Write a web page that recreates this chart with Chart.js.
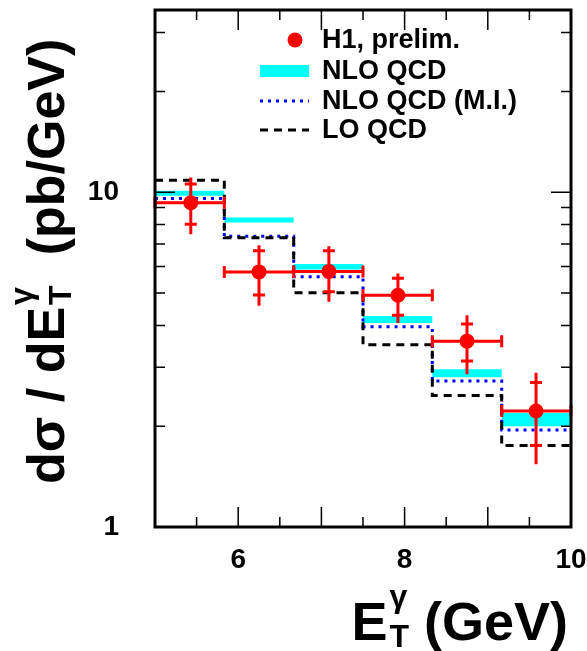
<!DOCTYPE html>
<html>
<head>
<meta charset="utf-8">
<script src="https://cdn.jsdelivr.net/npm/chart.js@4.4.1/dist/chart.umd.min.js"></script>
<style>
  html, body { margin: 0; padding: 0; background: #fff; }
  #wrap { width: 587px; height: 651px; }
</style>
</head>
<body>
<div id="wrap"><canvas id="xsec"></canvas></div>
<script>
// bin edges in E_T^gamma (GeV)
const binEdges = [5.0, 5.833, 6.667, 7.5, 8.333, 9.167, 10.0];

// H1 preliminary points (pb/GeV), inner cross = stat, outer = total
const dataX = [5.43, 6.25, 7.09, 7.92, 8.75, 9.58];
const dataY = [9.3, 5.78, 5.8, 4.92, 3.59, 2.22];
const statLo = [8.02, 4.93, 5.04, 4.29, 3.13, 1.75];
const statHi = [10.57, 6.68, 6.68, 5.53, 4.04, 2.70];
const totLo = [7.49, 4.58, 4.71, 4.07, 2.86, 1.54];
const totHi = [11.07, 6.94, 6.89, 5.72, 4.29, 2.89];

// predictions per bin
const nloLo = [9.75, 8.12, 5.88, 4.07, 2.80, 2.00];
const nloHi = [10.09, 8.40, 6.10, 4.27, 2.96, 2.19];
const nloMI = [9.58, 7.39, 5.59, 3.96, 2.73, 1.95];
const loQcd = [10.86, 7.31, 5.01, 3.50, 2.47, 1.75];

const legendLabels = ['H1, prelim.', 'NLO QCD', 'NLO QCD (M.I.)', 'LO QCD'];

// axis ticks
const xTickLabels = [6, 8, 10];
const yTicks = [1, 2, 3, 4, 5, 6, 7, 8, 9, 10, 20, 30];
const yTickLabels = [1, 10];

const FONT = '"Liberation Sans", Arial, Helvetica, sans-serif';
const RED = '#ff0000', CYAN = '#00ffff', BLUE = '#0000ff';

// histogram style points: one per left edge + closing point at the last edge
const steps = vals => binEdges.map((e, i) => ({ x: e, y: vals[Math.min(i, vals.length - 1)] }));

// keep the plot frame where the original has it
const noPad = s => { s.paddingTop = 0; s.paddingBottom = 0; s.paddingLeft = 0; s.paddingRight = 0; };

const h1Plugin = {
  id: 'h1Style',
  beforeDatasetDraw(chart, args) {
    if (args.index !== 0) return;
    const { ctx, scales: { x, y } } = chart;
    ctx.save();
    ctx.strokeStyle = RED;
    ctx.lineWidth = 3;
    ctx.beginPath();
    dataX.forEach((v, i) => {
      const px = x.getPixelForValue(v), py = y.getPixelForValue(dataY[i]);
      const xl = x.getPixelForValue(binEdges[i]), xr = x.getPixelForValue(binEdges[i + 1]);
      ctx.moveTo(xl, py); ctx.lineTo(xr, py);
      ctx.moveTo(xl, py - 6); ctx.lineTo(xl, py + 6);
      ctx.moveTo(xr, py - 6); ctx.lineTo(xr, py + 6);
      ctx.moveTo(px, y.getPixelForValue(totHi[i])); ctx.lineTo(px, y.getPixelForValue(totLo[i]));
      [statHi[i], statLo[i]].forEach(s => {
        const sy = y.getPixelForValue(s);
        ctx.moveTo(px - 6, sy); ctx.lineTo(px + 6, sy);
      });
    });
    ctx.stroke();
    ctx.restore();
  },
  afterDraw(chart) {
    const { ctx, chartArea: a, scales: { x, y } } = chart;
    ctx.save();
    // inward ticks on all four sides
    ctx.strokeStyle = '#000';
    ctx.lineWidth = 1.5;
    ctx.beginPath();
    x.ticks.forEach(t => {
      const px = x.getPixelForValue(t.value);
      const len = Number.isInteger(t.value) ? 20 : 10;
      ctx.moveTo(px, a.bottom); ctx.lineTo(px, a.bottom - len);
      ctx.moveTo(px, a.top); ctx.lineTo(px, a.top + len);
    });
    y.ticks.forEach(t => {
      const py = y.getPixelForValue(t.value);
      const len = yTickLabels.includes(t.value) ? 20 : 10;
      ctx.moveTo(a.left, py); ctx.lineTo(a.left + len, py);
      ctx.moveTo(a.right, py); ctx.lineTo(a.right - len, py);
    });
    ctx.stroke();
    // frame
    ctx.lineWidth = 3;
    ctx.strokeRect(a.left, a.top, a.right - a.left, a.bottom - a.top);

    // legend
    const ds = chart.data.datasets;
    const rows = [40, 71, 101, 130].map(v => a.top + v - 10);
    const sx0 = a.left + 105, sx1 = a.left + 154, tx = a.left + 167;
    ctx.font = 'bold 27px ' + FONT;
    ctx.textBaseline = 'middle';
    ctx.fillStyle = '#000';
    legendLabels.forEach((lab, i) => {
      const ry = rows[i];
      if (i === 0) {
        ctx.fillStyle = RED;
        ctx.beginPath();
        ctx.arc(sx1 - 14, ry, 7.5, 0, Math.PI * 2);
        ctx.fill();
      } else if (i === 1) {
        ctx.fillStyle = CYAN;
        ctx.fillRect(sx0, ry - 6, sx1 - sx0, 12);
      } else {
        const d = ds[i === 2 ? 2 : 1];
        ctx.strokeStyle = d.borderColor;
        ctx.lineWidth = 3;
        ctx.setLineDash(d.borderDash);
        ctx.beginPath();
        ctx.moveTo(sx0, ry); ctx.lineTo(sx1, ry);
        ctx.stroke();
        ctx.setLineDash([]);
      }
      ctx.fillStyle = '#000';
      ctx.fillText(lab, tx, ry + 1);
    });

    // x title: E_T^gamma (GeV)
    ctx.textBaseline = 'alphabetic';
    ctx.textAlign = 'left';
    let big = 'bold 54px ' + FONT;
    const small = 'bold 32px ' + FONT;
    ctx.font = big;
    const wE = ctx.measureText('E').width, wRest = ctx.measureText(' (GeV)').width;
    ctx.font = small;
    const wS = Math.max(ctx.measureText('T').width, ctx.measureText('\u03b3').width);
    const xs = 568 - (wE + 2 + wS + wRest);
    const xb = 640;
    ctx.font = big; ctx.fillText('E', xs, xb);
    ctx.font = small;
    ctx.fillText('\u03b3', xs + wE + 2, xb - 33);
    ctx.fillText('T', xs + wE + 2, xb + 7);
    ctx.font = big; ctx.fillText(' (GeV)', xs + wE + 2 + wS, xb);

    // y title: dsigma / dE_T^gamma  (pb/GeV)
    big = 'bold 52px ' + FONT;
    ctx.translate(64, 484);
    ctx.rotate(-Math.PI / 2);
    ctx.font = big;
    const head = 'd\u03c3 / dE';
    const wH = ctx.measureText(head).width;
    ctx.fillText(head, 0, 0);
    ctx.font = small;
    ctx.fillText('\u03b3', wH + 2, -32);
    ctx.fillText('T', wH + 2, 7);
    ctx.font = big;
    ctx.fillText('(pb/GeV)', wH + 2 + wS + 30, 0);
    ctx.restore();
  }
};

new Chart(document.getElementById('xsec'), {
  type: 'line',
  data: {
    datasets: [
      {
        label: legendLabels[0],
        data: dataX.map((v, i) => ({ x: v, y: dataY[i] })),
        showLine: false,
        pointRadius: 7.5,
        pointBackgroundColor: RED,
        pointBorderWidth: 0,
        pointBorderColor: RED
      },
      {
        label: legendLabels[3],
        data: steps(loQcd),
        stepped: 'before',
        borderColor: '#000',
        borderWidth: 3,
        borderDash: [8, 6],
        pointRadius: 0,
        fill: false
      },
      {
        label: legendLabels[2],
        data: steps(nloMI),
        stepped: 'before',
        borderColor: BLUE,
        borderWidth: 3,
        borderDash: [3, 5],
        pointRadius: 0,
        fill: false
      },
      {
        label: legendLabels[1],
        data: steps(nloHi),
        stepped: 'before',
        borderColor: 'rgba(0,0,0,0)',
        backgroundColor: CYAN,
        pointRadius: 0,
        fill: '+1'
      },
      {
        label: legendLabels[1] + ' low',
        data: steps(nloLo),
        stepped: 'before',
        borderColor: 'rgba(0,0,0,0)',
        pointRadius: 0,
        fill: false
      }
    ]
  },
  options: {
    responsive: true,
    maintainAspectRatio: false,
    animation: false,
    devicePixelRatio: 1,
    layout: { padding: { top: 10, right: 16, left: 0, bottom: 0 } },
    plugins: {
      legend: { display: false },
      tooltip: { enabled: false }
    },
    scales: {
      x: {
        type: 'linear',
        min: 5,
        max: 10,
        grid: { display: false },
        border: { display: false },
        afterFit: s => { s.height = 124; noPad(s); },
        ticks: {
          stepSize: 0.5,
          autoSkip: false,
          maxRotation: 0,
          padding: 8,
          color: '#000',
          font: { family: FONT, size: 28, weight: 'bold' },
          callback: v => xTickLabels.includes(v) ? String(v) : ''
        }
      },
      y: {
        type: 'logarithmic',
        min: 1,
        max: 35,
        grid: { display: false },
        border: { display: false },
        afterFit: s => { s.width = 155; noPad(s); },
        afterBuildTicks: s => { s.ticks = yTicks.map(v => ({ value: v })); },
        ticks: {
          autoSkip: false,
          padding: 28,
          color: '#000',
          font: { family: FONT, size: 28, weight: 'bold' },
          callback: v => yTickLabels.includes(v) ? String(v) : ''
        }
      }
    }
  },
  plugins: [h1Plugin]
});
</script>
</body>
</html>
